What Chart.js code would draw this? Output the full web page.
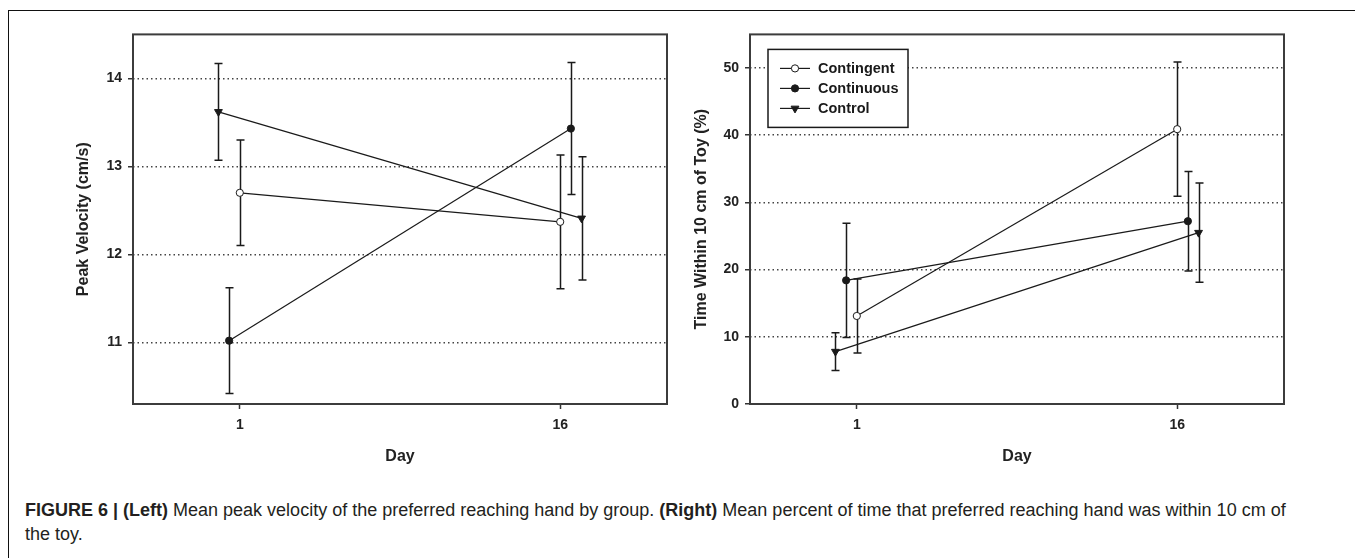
<!DOCTYPE html>
<html>
<head>
<meta charset="utf-8">
<script src="https://cdn.jsdelivr.net/npm/chart.js@4.4.1/dist/chart.umd.min.js"></script>
<style>
    body { margin: 0; background: #fff; width: 1355px; height: 558px; overflow: hidden; position: relative; font-family: "Liberation Sans", Arial, sans-serif; }
    #frame { position: absolute; left: 8px; top: 10px; width: 1400px; height: 600px; border-left: 1px solid #111; border-top: 1px solid #111; }
    .plot { position: absolute; top: 20px; }
    #caption { position: absolute; left: 25px; top: 498px; font-size: 18px; line-height: 24px; color: #231f20; white-space: nowrap; }
</style>
</head>
<body>
<div id="frame"></div>
<canvas id="velocityChart" class="plot" width="630" height="460" style="left:40px"></canvas>
<canvas id="timeChart" class="plot" width="630" height="460" style="left:670px"></canvas>
<div id="caption"><b>FIGURE 6 | (Left)</b> Mean peak velocity of the preferred reaching hand by group. <b>(Right)</b> Mean percent of time that preferred reaching hand was within 10 cm of<br>the toy.</div>

<script>
// groups and x positions (SigmaPlot offsets each group a little around the day)
const groups = ['Contingent', 'Continuous', 'Control'];
const dayTicks = [1, 16];
const xContingent = [1, 16];
const xContinuous = [0.5, 16.5];
const xControl = [0, 17];

// left panel: peak velocity (cm/s), mean and error
const velocityTicks = [11, 12, 13, 14];
const velocityContingent = [12.70, 12.37];
const velocityContinuous = [11.02, 13.43];
const velocityControl = [13.62, 12.41];
const velocityErrContingent = [0.60, 0.76];
const velocityErrContinuous = [0.60, 0.75];
const velocityErrControl = [0.55, 0.70];

// right panel: time within 10 cm of toy (%), mean and error
const timeTicks = [0, 10, 20, 30, 40, 50];
const timeContingent = [13.1, 40.9];
const timeContinuous = [18.4, 27.2];
const timeControl = [7.8, 25.5];
const timeErrContingent = [5.5, 10.0];
const timeErrContinuous = [8.5, 7.4];
const timeErrControl = [2.8, 7.4];

const FONT = "'Liberation Sans', Arial, sans-serif";
const INK = '#1a1a1a';

function drawMarker(ctx, style, x, y) {
    ctx.save();
    ctx.lineWidth = 1;
    ctx.strokeStyle = INK;
    ctx.beginPath();
    if (style === 'down') {
        const r = 4.5;
        ctx.moveTo(x, y + r);
        ctx.lineTo(x - r * 0.87, y - r / 2);
        ctx.lineTo(x + r * 0.87, y - r / 2);
        ctx.closePath();
        ctx.fillStyle = INK;
    } else {
        ctx.arc(x, y, 3.6, 0, Math.PI * 2);
        ctx.fillStyle = style === 'open' ? '#fff' : INK;
    }
    ctx.fill();
    ctx.stroke();
    ctx.restore();
}

// vertical error bars with caps, under the markers
const errorBars = {
    id: 'errorBars',
    beforeDatasetsDraw(chart) {
        const { ctx, scales: { x: xs, y: ys } } = chart;
        ctx.save();
        ctx.strokeStyle = INK;
        ctx.lineWidth = 1.5;
        chart.data.datasets.forEach(ds => {
            ds.data.forEach((p, i) => {
                const e = ds.errors[i];
                const x = Math.round(xs.getPixelForValue(p.x)) + 0.5;
                const yTop = ys.getPixelForValue(p.y + e);
                const yBot = ys.getPixelForValue(p.y - e);
                ctx.beginPath();
                ctx.moveTo(x, yTop); ctx.lineTo(x, yBot);
                ctx.moveTo(x - 4, yTop); ctx.lineTo(x + 4, yTop);
                ctx.moveTo(x - 4, yBot); ctx.lineTo(x + 4, yBot);
                ctx.stroke();
            });
        });
        ctx.restore();
    },
    afterDatasetsDraw(chart) {
        const { ctx, scales: { x: xs, y: ys } } = chart;
        chart.data.datasets.forEach(ds => {
            ds.data.forEach(p => drawMarker(ctx, ds.marker, xs.getPixelForValue(p.x), ys.getPixelForValue(p.y)));
        });
    }
};

// plot box + boxed legend in the upper left
const frameAndLegend = {
    id: 'frameAndLegend',
    afterDraw(chart, args, opts) {
        const { ctx, chartArea: a } = chart;
        ctx.save();
        ctx.strokeStyle = '#3c3c3c';
        ctx.lineWidth = 2;
        ctx.strokeRect(a.left, a.top, a.right - a.left, a.bottom - a.top);

        if (opts.legend) {
            const bx = a.left + 18, by = a.top + 15, bw = 140, bh = 78;
            ctx.fillStyle = '#fff';
            ctx.fillRect(bx, by, bw, bh);
            ctx.strokeStyle = INK;
            ctx.lineWidth = 1.5;
            ctx.strokeRect(bx, by, bw, bh);
            ctx.font = `bold 14.5px ${FONT}`;
            ctx.textBaseline = 'middle';
            chart.data.datasets.forEach((ds, i) => {
                const ry = by + 19 + i * 20;
                ctx.strokeStyle = INK;
                ctx.lineWidth = 1.2;
                ctx.beginPath();
                ctx.moveTo(bx + 12, ry); ctx.lineTo(bx + 42, ry);
                ctx.stroke();
                drawMarker(ctx, ds.marker, bx + 27, ry);
                ctx.fillStyle = INK;
                ctx.fillText(ds.label, bx + 50, ry + 1);
            });
        }
        ctx.restore();
    }
};

function series(label, xs, ys, errs, marker) {
    return {
        label: label,
        data: xs.map((x, i) => ({ x: x, y: ys[i] })),
        errors: errs,
        marker: marker,
        showLine: true,
        borderColor: INK,
        borderWidth: 1.2,
        pointRadius: 0,
        pointHoverRadius: 0
    };
}

function makeChart(id, cfg) {
    const ctx = document.getElementById(id);
    return new Chart(ctx, {
        type: 'scatter',
        data: { datasets: cfg.datasets },
        plugins: [errorBars, frameAndLegend],
        options: {
            responsive: false,
            animation: false,
            devicePixelRatio: 1,
            layout: { padding: { top: 12, right: cfg.padRight, left: 0, bottom: 0 } },
            plugins: {
                legend: { display: false },
                tooltip: { enabled: false },
                frameAndLegend: { legend: cfg.legend }
            },
            scales: {
                x: {
                    type: 'linear',
                    min: -4,
                    max: 21,
                    afterBuildTicks: s => { s.ticks = dayTicks.map(v => ({ value: v })); },
                    afterFit: s => { s.height = 76; },
                    grid: { drawOnChartArea: false, drawTicks: true, tickLength: 5, tickColor: '#333', tickWidth: 1.5 },
                    border: { display: false },
                    ticks: { color: '#222', padding: 8, font: { family: FONT, size: 14, weight: 'bold' } },
                    title: { display: true, text: 'Day', color: '#222', padding: { top: 0, bottom: 14 }, font: { family: FONT, size: 16, weight: 'bold' } }
                },
                y: {
                    min: cfg.yMin,
                    max: cfg.yMax,
                    afterBuildTicks: s => { s.ticks = cfg.yTicks.map(v => ({ value: v })); },
                    afterFit: s => { s.width = cfg.yWidth; },
                    grid: { color: '#444', lineWidth: 1.5, drawTicks: true, tickLength: 5, tickColor: '#333', tickWidth: 1.5 },
                    border: { display: false, dash: [1.5, 3] },
                    ticks: { color: '#222', padding: 6, font: { family: FONT, size: 14, weight: 'bold' } },
                    title: { display: true, text: cfg.yTitle, color: '#222', padding: { top: cfg.titlePad, bottom: 0 }, font: { family: FONT, size: 16, weight: 'bold' } }
                }
            }
        }
    });
}

makeChart('velocityChart', {
    datasets: [
        series(groups[0], xContingent, velocityContingent, velocityErrContingent, 'open'),
        series(groups[1], xContinuous, velocityContinuous, velocityErrContinuous, 'filled'),
        series(groups[2], xControl, velocityControl, velocityErrControl, 'down')
    ],
    yMin: 10.3, yMax: 14.5, yTicks: velocityTicks,
    yTitle: 'Peak Velocity (cm/s)',
    yWidth: 93, titlePad: 34, padRight: 3, legend: false
});

makeChart('timeChart', {
    datasets: [
        series(groups[0], xContingent, timeContingent, timeErrContingent, 'open'),
        series(groups[1], xContinuous, timeContinuous, timeErrContinuous, 'filled'),
        series(groups[2], xControl, timeControl, timeErrControl, 'down')
    ],
    yMin: 0, yMax: 55, yTicks: timeTicks,
    yTitle: 'Time Within 10 cm of Toy (%)',
    yWidth: 80, titlePad: 22, padRight: 16, legend: true
});
</script>
</body>
</html>
